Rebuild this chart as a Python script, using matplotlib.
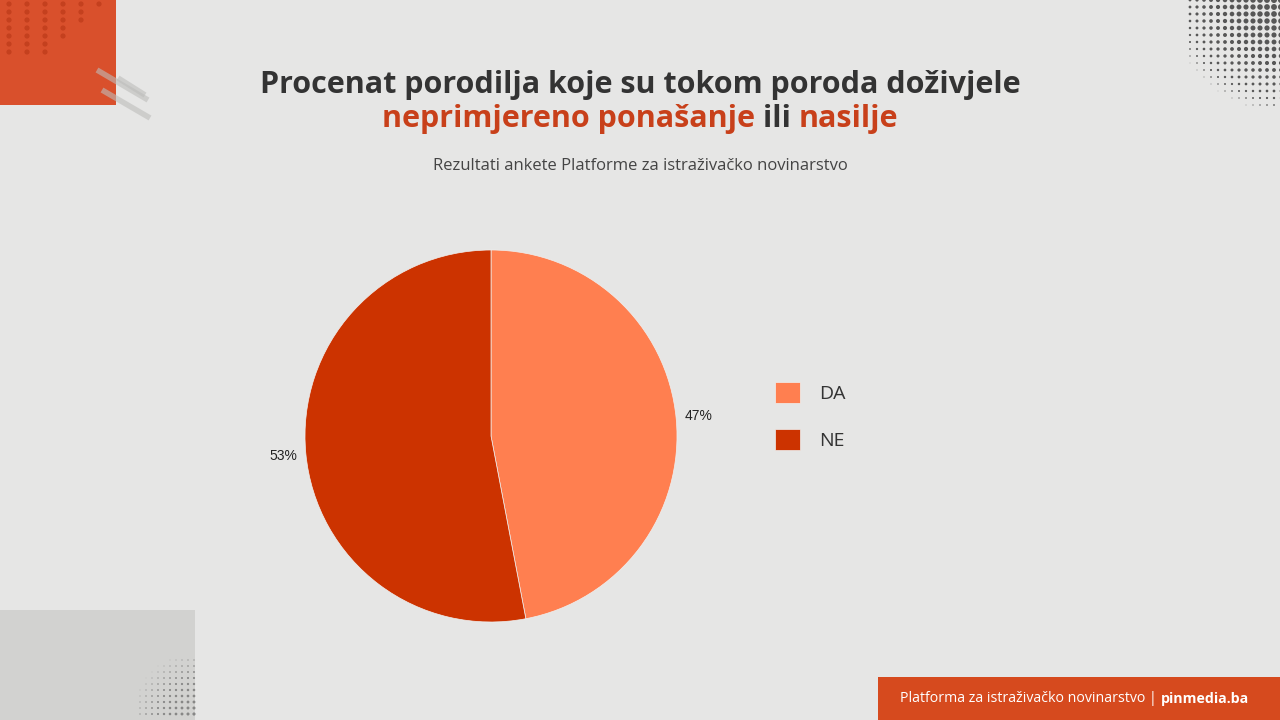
import matplotlib
matplotlib.use("Agg")
import matplotlib.pyplot as plt
import numpy as np
from matplotlib.patches import Rectangle

categories = ["DA", "NE"]
values = [47, 53]
colors = ["#FF7F50", "#CC3300"]

title_line1 = "Procenat porodilja koje su tokom poroda doživjele"
title_parts = [("neprimjereno ponašanje", "#C8401A"), (" ili ", "#333333"), ("nasilje", "#C8401A")]
subtitle = "Rezultati ankete Platforme za istraživačko novinarstvo"
footer_regular = "Platforma za istraživačko novinarstvo | "
footer_bold = "pinmedia.ba"

W, H = 1280, 720
BG = "#E6E6E5"
fig = plt.figure(figsize=(12.8, 7.2), dpi=100)
fig.patch.set_facecolor(BG)

# background decoration layer in pixel coordinates
bg = fig.add_axes([0, 0, 1, 1], zorder=0)
bg.set_xlim(0, W)
bg.set_ylim(H, 0)
bg.axis("off")
bg.add_patch(Rectangle((0, 610), 195, 110, facecolor="#D2D2D0", edgecolor="none"))
bg.add_patch(Rectangle((0, 0), 116, 105, facecolor="#D9502C", edgecolor="none"))
bg.add_patch(Rectangle((878, 677), 402, 43, facecolor="#D64A1E", edgecolor="none"))
# dot pattern in the orange square
gx, gy = np.meshgrid(np.arange(9, 110, 18), np.arange(4, 58, 8))
mask = gx < (108 - (gy - 4) * 1.3)
bg.scatter(gx[mask], gy[mask], s=14, color="#C4401E", edgecolors="none")
# diagonal strokes
for (x1, y1, x2, y2) in [(97, 70, 148, 100), (102, 90, 150, 118), (118, 78, 145, 95)]:
    bg.plot([x1, x2], [y1, y2], color="#BDBDBB", lw=4, alpha=0.6, solid_capstyle="butt")
# halftone in top-right corner
hx, hy = np.meshgrid(np.arange(1190, 1285, 7), np.arange(0, 110, 7))
d = np.hypot(hx - 1290, hy + 10)
sz = np.clip(1 - d / 125, 0, 1) * 22
bg.scatter(hx.ravel(), hy.ravel(), s=sz.ravel(), color="#333333", edgecolors="none", alpha=0.8)
# halftone in bottom-left gray block corner
lx, ly = np.meshgrid(np.arange(140, 200, 6), np.arange(660, 720, 6))
d2 = np.hypot(lx - 200, ly - 720)
sz2 = np.clip(1 - d2 / 70, 0, 1) * 6
bg.scatter(lx.ravel(), ly.ravel(), s=sz2.ravel(), color="#555555", edgecolors="none", alpha=0.6)

# pie
cx, cy, r = 491, 436, 186
ax = fig.add_axes([(cx - r) / W, (H - cy - r) / H, 2 * r / W, 2 * r / H], zorder=2)
ax.set_facecolor("none")
wedges, texts, autotexts = ax.pie(
    values, colors=colors, startangle=90, counterclock=False,
    autopct="%.0f%%", pctdistance=1.12, radius=1.0,
    wedgeprops=dict(linewidth=0.5, edgecolor="#F0F0F0"),
    textprops=dict(fontsize=10, color="#222222", family="Liberation Sans"))
ax.set_xlim(-1, 1)
ax.set_ylim(-1, 1)
ax.set_aspect("equal")
ax.axis("off")

# legend
leg = fig.legend(wedges, categories, loc="center left",
                 bbox_to_anchor=(757 / W, 1 - 416 / H), frameon=False,
                 prop=dict(family="Open Sans", size=14),
                 handlelength=1.32, handleheight=1.32, handletextpad=1.0,
                 labelspacing=1.3)
for t in leg.get_texts():
    t.set_color("#333333")

# titles
TFS = 22
fig.text(0.5, 1 - 85 / H, title_line1, ha="center", va="center",
         fontsize=TFS, fontweight="bold", family="Open Sans", color="#333333")

fig.canvas.draw()
renderer = fig.canvas.get_renderer()
pieces = []
total = 0
for s, c in title_parts:
    t = fig.text(0, 0, s, fontsize=TFS, fontweight="bold", family="Open Sans", color=c)
    w = t.get_window_extent(renderer).width
    pieces.append((t, w))
    total += w
x0 = 640 - total / 2
for t, w in pieces:
    t.set_position((x0 / W, 1 - 119 / H))
    t.set_va("center")
    x0 += w

fig.text(0.5, 1 - 166 / H, subtitle, ha="center", va="center",
         fontsize=12, family="Open Sans", color="#444444")

# footer
FFS = 10.2
fr = fig.text(900 / W, 1 - 699 / H, footer_regular, ha="left", va="center",
              fontsize=FFS, family="Open Sans", color="white")
wr = fr.get_window_extent(renderer).width
fig.text((900 + wr) / W, 1 - 699 / H, footer_bold, ha="left", va="center",
         fontsize=FFS, family="Open Sans", fontweight="bold", color="white")

fig.savefig("out.png", dpi=100, facecolor=fig.get_facecolor())
